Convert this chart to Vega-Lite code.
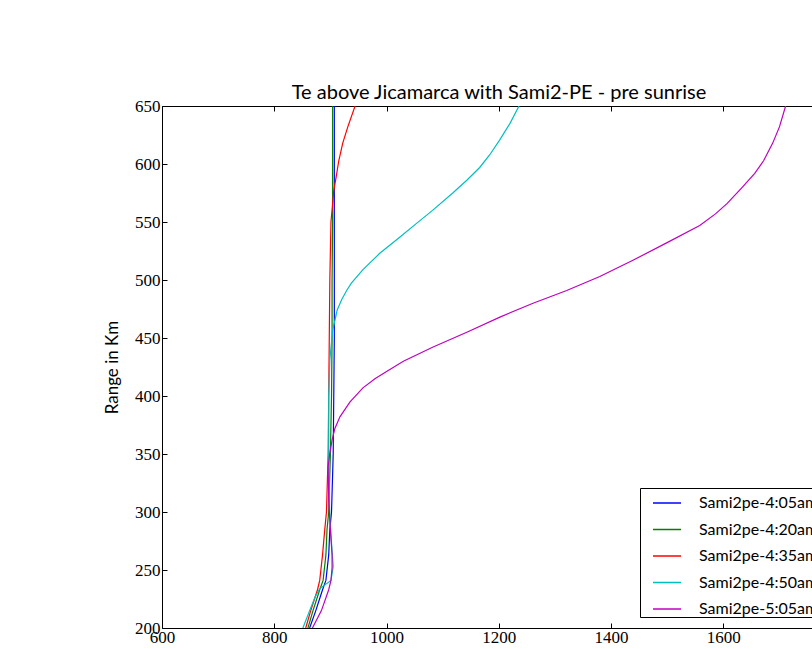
{
  "$schema": "https://vega.github.io/schema/vega-lite/v6.json",
  "autosize": "none",
  "padding": {"left": 162, "top": 106, "right": 0, "bottom": 21},
  "width": 650,
  "height": 522,
  "background": "white",
  "title": {"text": "Te above Jicamarca with Sami2-PE - pre sunrise", "font": "Lato", "fontSize": 20, "fontWeight": "normal", "color": "black", "anchor": "middle", "dx": 12, "offset": -6},
  "config": {
    "view": {"stroke": "black", "strokeWidth": 1},
    "axis": {"grid": false, "domain": false, "tickColor": "black", "tickSize": -5, "labelColor": "black", "labelFont": "Liberation Serif", "labelFontSize": 17, "labelFlush": false, "labelOverlap": false, "labelBound": false, "titleFont": "Lato", "titleFontSize": 17, "titleFontWeight": "normal", "titleColor": "black"},
    "legend": {"orient": "none", "legendX": 478, "legendY": 382, "strokeColor": "black", "fillColor": "white", "padding": 0, "symbolOffset": 12, "cornerRadius": 0, "symbolType": "stroke", "symbolSize": 784, "symbolStrokeWidth": 1.5, "labelFont": "Lato", "labelFontSize": 16, "labelColor": "black", "labelOffset": 17, "rowPadding": 3.5, "labelLimit": 300}
  },
  "data": {"values": [
    {"s": "Sami2pe-4:05am", "alt": 200, "T": 863},
    {"s": "Sami2pe-4:05am", "alt": 215, "T": 874},
    {"s": "Sami2pe-4:05am", "alt": 233, "T": 886},
    {"s": "Sami2pe-4:05am", "alt": 241, "T": 892},
    {"s": "Sami2pe-4:05am", "alt": 263, "T": 897},
    {"s": "Sami2pe-4:05am", "alt": 285, "T": 899},
    {"s": "Sami2pe-4:05am", "alt": 300, "T": 902},
    {"s": "Sami2pe-4:05am", "alt": 350, "T": 905},
    {"s": "Sami2pe-4:05am", "alt": 400, "T": 906},
    {"s": "Sami2pe-4:05am", "alt": 450, "T": 907},
    {"s": "Sami2pe-4:05am", "alt": 500, "T": 907},
    {"s": "Sami2pe-4:05am", "alt": 550, "T": 907},
    {"s": "Sami2pe-4:05am", "alt": 600, "T": 907},
    {"s": "Sami2pe-4:05am", "alt": 650, "T": 907},
    {"s": "Sami2pe-4:20am", "alt": 200, "T": 860},
    {"s": "Sami2pe-4:20am", "alt": 215, "T": 869},
    {"s": "Sami2pe-4:20am", "alt": 233, "T": 881},
    {"s": "Sami2pe-4:20am", "alt": 241, "T": 887},
    {"s": "Sami2pe-4:20am", "alt": 263, "T": 892},
    {"s": "Sami2pe-4:20am", "alt": 285, "T": 894},
    {"s": "Sami2pe-4:20am", "alt": 300, "T": 897},
    {"s": "Sami2pe-4:20am", "alt": 350, "T": 900},
    {"s": "Sami2pe-4:20am", "alt": 400, "T": 902},
    {"s": "Sami2pe-4:20am", "alt": 450, "T": 903},
    {"s": "Sami2pe-4:20am", "alt": 500, "T": 903},
    {"s": "Sami2pe-4:20am", "alt": 550, "T": 904},
    {"s": "Sami2pe-4:20am", "alt": 600, "T": 904},
    {"s": "Sami2pe-4:20am", "alt": 650, "T": 904},
    {"s": "Sami2pe-4:35am", "alt": 200, "T": 856},
    {"s": "Sami2pe-4:35am", "alt": 215, "T": 865},
    {"s": "Sami2pe-4:35am", "alt": 233, "T": 877},
    {"s": "Sami2pe-4:35am", "alt": 241, "T": 881},
    {"s": "Sami2pe-4:35am", "alt": 263, "T": 886},
    {"s": "Sami2pe-4:35am", "alt": 285, "T": 890},
    {"s": "Sami2pe-4:35am", "alt": 300, "T": 893},
    {"s": "Sami2pe-4:35am", "alt": 350, "T": 896},
    {"s": "Sami2pe-4:35am", "alt": 400, "T": 897},
    {"s": "Sami2pe-4:35am", "alt": 450, "T": 898},
    {"s": "Sami2pe-4:35am", "alt": 500, "T": 899},
    {"s": "Sami2pe-4:35am", "alt": 550, "T": 901},
    {"s": "Sami2pe-4:35am", "alt": 566, "T": 904},
    {"s": "Sami2pe-4:35am", "alt": 577, "T": 906},
    {"s": "Sami2pe-4:35am", "alt": 588, "T": 910},
    {"s": "Sami2pe-4:35am", "alt": 603, "T": 915},
    {"s": "Sami2pe-4:35am", "alt": 618, "T": 922},
    {"s": "Sami2pe-4:35am", "alt": 632, "T": 931},
    {"s": "Sami2pe-4:35am", "alt": 650, "T": 944},
    {"s": "Sami2pe-4:50am", "alt": 200, "T": 851},
    {"s": "Sami2pe-4:50am", "alt": 215, "T": 863},
    {"s": "Sami2pe-4:50am", "alt": 227, "T": 873},
    {"s": "Sami2pe-4:50am", "alt": 234, "T": 881},
    {"s": "Sami2pe-4:50am", "alt": 241, "T": 901},
    {"s": "Sami2pe-4:50am", "alt": 253, "T": 905},
    {"s": "Sami2pe-4:50am", "alt": 293, "T": 899},
    {"s": "Sami2pe-4:50am", "alt": 345, "T": 897},
    {"s": "Sami2pe-4:50am", "alt": 400, "T": 897},
    {"s": "Sami2pe-4:50am", "alt": 431, "T": 899},
    {"s": "Sami2pe-4:50am", "alt": 457, "T": 904},
    {"s": "Sami2pe-4:50am", "alt": 465, "T": 908},
    {"s": "Sami2pe-4:50am", "alt": 474, "T": 912},
    {"s": "Sami2pe-4:50am", "alt": 483, "T": 920},
    {"s": "Sami2pe-4:50am", "alt": 491, "T": 929},
    {"s": "Sami2pe-4:50am", "alt": 497, "T": 937},
    {"s": "Sami2pe-4:50am", "alt": 509, "T": 958},
    {"s": "Sami2pe-4:50am", "alt": 523, "T": 988},
    {"s": "Sami2pe-4:50am", "alt": 537, "T": 1024},
    {"s": "Sami2pe-4:50am", "alt": 549, "T": 1054},
    {"s": "Sami2pe-4:50am", "alt": 560, "T": 1082},
    {"s": "Sami2pe-4:50am", "alt": 575, "T": 1118},
    {"s": "Sami2pe-4:50am", "alt": 586, "T": 1143},
    {"s": "Sami2pe-4:50am", "alt": 597, "T": 1166},
    {"s": "Sami2pe-4:50am", "alt": 608, "T": 1184},
    {"s": "Sami2pe-4:50am", "alt": 621, "T": 1202},
    {"s": "Sami2pe-4:50am", "alt": 635, "T": 1220},
    {"s": "Sami2pe-4:50am", "alt": 650, "T": 1236},
    {"s": "Sami2pe-5:05am", "alt": 200, "T": 868},
    {"s": "Sami2pe-5:05am", "alt": 215, "T": 884},
    {"s": "Sami2pe-5:05am", "alt": 233, "T": 897},
    {"s": "Sami2pe-5:05am", "alt": 241, "T": 901},
    {"s": "Sami2pe-5:05am", "alt": 252, "T": 903},
    {"s": "Sami2pe-5:05am", "alt": 263, "T": 903},
    {"s": "Sami2pe-5:05am", "alt": 285, "T": 900},
    {"s": "Sami2pe-5:05am", "alt": 310, "T": 897},
    {"s": "Sami2pe-5:05am", "alt": 339, "T": 896},
    {"s": "Sami2pe-5:05am", "alt": 351, "T": 899},
    {"s": "Sami2pe-5:05am", "alt": 362, "T": 903},
    {"s": "Sami2pe-5:05am", "alt": 372, "T": 908},
    {"s": "Sami2pe-5:05am", "alt": 382, "T": 917},
    {"s": "Sami2pe-5:05am", "alt": 395, "T": 935},
    {"s": "Sami2pe-5:05am", "alt": 407, "T": 958},
    {"s": "Sami2pe-5:05am", "alt": 415, "T": 980},
    {"s": "Sami2pe-5:05am", "alt": 422, "T": 1003},
    {"s": "Sami2pe-5:05am", "alt": 430, "T": 1030},
    {"s": "Sami2pe-5:05am", "alt": 442, "T": 1082},
    {"s": "Sami2pe-5:05am", "alt": 455, "T": 1143},
    {"s": "Sami2pe-5:05am", "alt": 468, "T": 1202},
    {"s": "Sami2pe-5:05am", "alt": 480, "T": 1261},
    {"s": "Sami2pe-5:05am", "alt": 491, "T": 1321},
    {"s": "Sami2pe-5:05am", "alt": 503, "T": 1380},
    {"s": "Sami2pe-5:05am", "alt": 517, "T": 1439},
    {"s": "Sami2pe-5:05am", "alt": 532, "T": 1499},
    {"s": "Sami2pe-5:05am", "alt": 547, "T": 1558},
    {"s": "Sami2pe-5:05am", "alt": 557, "T": 1586},
    {"s": "Sami2pe-5:05am", "alt": 566, "T": 1607},
    {"s": "Sami2pe-5:05am", "alt": 580, "T": 1634},
    {"s": "Sami2pe-5:05am", "alt": 592, "T": 1656},
    {"s": "Sami2pe-5:05am", "alt": 603, "T": 1672},
    {"s": "Sami2pe-5:05am", "alt": 618, "T": 1688},
    {"s": "Sami2pe-5:05am", "alt": 632, "T": 1700},
    {"s": "Sami2pe-5:05am", "alt": 650, "T": 1711}
  ]},
  "layer": [
    {
      "mark": {"type": "line", "strokeWidth": 1.2, "clip": true},
      "encoding": {
        "x": {"field": "T", "type": "quantitative", "scale": {"domain": [600, 1758], "nice": false, "zero": false},
              "axis": {"orient": "bottom", "values": [600, 800, 1000, 1200, 1400, 1600, 1800], "format": "d", "title": null, "labelPadding": 6}},
        "y": {"field": "alt", "type": "quantitative", "scale": {"domain": [200, 650], "nice": false, "zero": false},
              "axis": {"values": [200, 250, 300, 350, 400, 450, 500, 550, 600, 650], "format": "d", "title": "Range in Km", "labelPadding": 7, "titlePadding": 13}},
        "color": {"field": "s", "type": "nominal",
                  "scale": {"domain": ["Sami2pe-4:05am", "Sami2pe-4:20am", "Sami2pe-4:35am", "Sami2pe-4:50am", "Sami2pe-5:05am"], "range": ["#0000ff", "#008000", "#ff0000", "#00bfbf", "#bf00bf"]},
                  "legend": {"title": null}},
        "order": {"field": "alt", "type": "quantitative"}
      }
    },
    {
      "mark": {"type": "line", "opacity": 0},
      "encoding": {
        "x": {"field": "T", "type": "quantitative", "scale": {"domain": [600, 1758], "nice": false, "zero": false},
              "axis": {"orient": "top", "values": [600, 800, 1000, 1200, 1400, 1600, 1800], "labels": false, "title": null}},
        "y": {"field": "alt", "type": "quantitative"},
        "detail": {"field": "s"},
        "order": {"field": "alt", "type": "quantitative"}
      }
    }
  ],
  "resolve": {"axis": {"x": "independent"}}
}
